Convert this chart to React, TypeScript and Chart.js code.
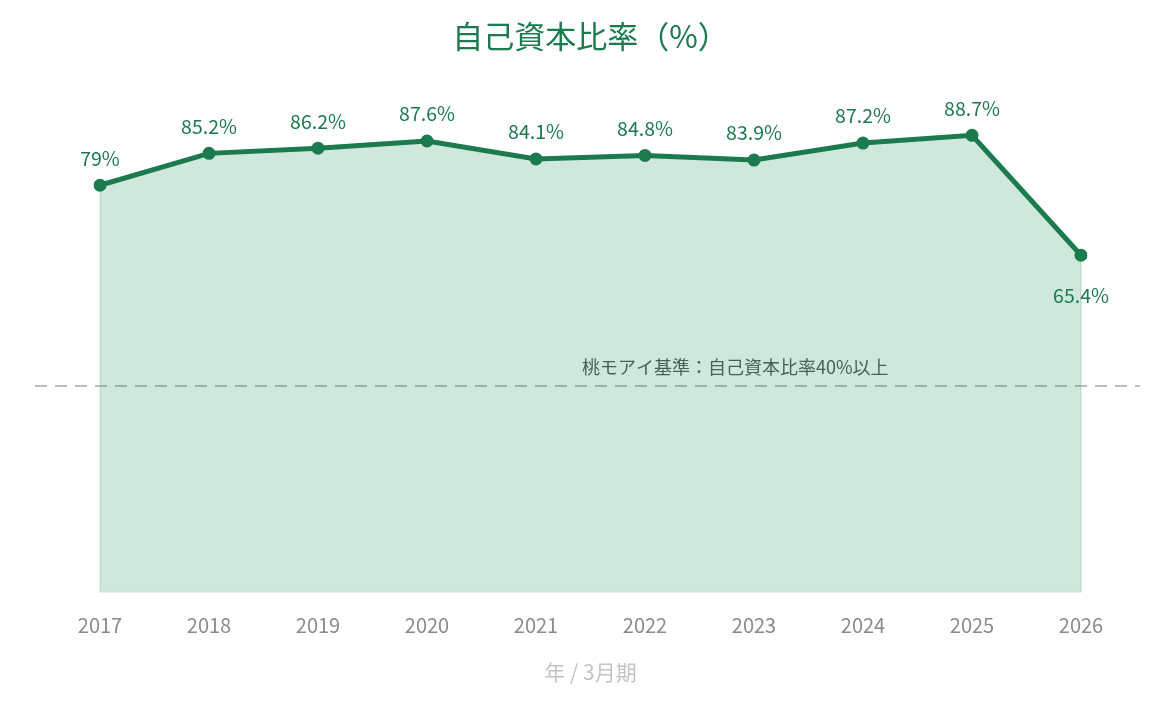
import React, { useEffect, useRef } from "react";
import { Chart, registerables } from "chart.js";

Chart.register(...registerables);

const years = ["2017", "2018", "2019", "2020", "2021", "2022", "2023", "2024", "2025", "2026"];
const equityRatio = [79, 85.2, 86.2, 87.6, 84.1, 84.8, 83.9, 87.2, 88.7, 65.4];
const pointLabels = ["79%", "85.2%", "86.2%", "87.6%", "84.1%", "84.8%", "83.9%", "87.2%", "88.7%", "65.4%"];
const threshold = 40;
const thresholdLabel = "桃モアイ基準：自己資本比率40%以上";
const titleText = "自己資本比率（%）";
const xTitle = "年 / 3月期";

const GREEN = "#1b7a4e";
const FONT = "'Noto Sans CJK JP', 'Noto Sans', sans-serif";

const overlayPlugin = {
  id: "overlay",
  beforeDatasetsDraw(chart: any) {
    const { ctx, chartArea, scales } = chart;
    const y = scales.y.getPixelForValue(threshold);
    ctx.save();
    const meta = chart.getDatasetMeta(0);
    const first = meta.data[0];
    const last = meta.data[meta.data.length - 1];
    ctx.strokeStyle = "rgba(20,140,75,0.12)";
    ctx.lineWidth = 2;
    ctx.beginPath();
    ctx.moveTo(first.x, first.y);
    ctx.lineTo(first.x, chartArea.bottom);
    ctx.lineTo(last.x, chartArea.bottom);
    ctx.lineTo(last.x, last.y);
    ctx.stroke();
    ctx.strokeStyle = "#bdbdbd";
    ctx.lineWidth = 2;
    ctx.setLineDash([12, 8]);
    ctx.beginPath();
    ctx.moveTo(chartArea.left - 65, y);
    ctx.lineTo(chartArea.right + 59, y);
    ctx.stroke();
    ctx.setLineDash([]);
    ctx.fillStyle = "#555555";
    ctx.font = `18px ${FONT}`;
    ctx.textAlign = "left";
    ctx.textBaseline = "middle";
    ctx.fillText(thresholdLabel, chartArea.left + (chartArea.right - chartArea.left) * 0.4913, y - 19);
    ctx.restore();
  },
  afterDatasetsDraw(chart: any) {
    const { ctx } = chart;
    const meta = chart.getDatasetMeta(0);
    ctx.save();
    ctx.fillStyle = GREEN;
    ctx.font = `19.5px ${FONT}`;
    ctx.textAlign = "center";
    ctx.textBaseline = "middle";
    meta.data.forEach((pt: any, i: number) => {
      const below = i === meta.data.length - 1;
      ctx.fillText(pointLabels[i], pt.x, below ? pt.y + 40 : pt.y - 27);
    });
    ctx.restore();
  },
};

export default function App() {
  const ref = useRef<HTMLCanvasElement | null>(null);
  useEffect(() => {
    if (!ref.current) return;
    const chart = new Chart(ref.current, {
      type: "line",
      data: {
        labels: years,
        datasets: [
          {
            data: equityRatio,
            borderColor: GREEN,
            backgroundColor: "rgba(20,140,75,0.2)",
            borderWidth: 5,
            fill: "origin",
            tension: 0,
            pointRadius: 6.5,
            pointBackgroundColor: GREEN,
            pointBorderColor: GREEN,
            pointBorderWidth: 0,
          },
        ],
      },
      options: {
        responsive: false,
        animation: false,
        layout: { padding: { left: 100, right: 89, top: 0, bottom: 18 } },
        plugins: {
          legend: { display: false },
          tooltip: { enabled: false },
          title: {
            display: true,
            text: titleText,
            color: GREEN,
            font: { family: FONT, size: 31, weight: "normal" as any },
            padding: { top: 18, bottom: 22 },
          },
        },
        scales: {
          x: {
            offset: false,
            grid: { display: false, drawTicks: false },
            border: { display: false },
            ticks: { color: "#8a8a8a", font: { family: FONT, size: 20 }, padding: 22 },
            title: {
              display: true,
              text: xTitle,
              color: "#c4c4c4",
              font: { family: FONT, size: 21 },
              padding: { top: 0, bottom: 2 },
            },
          },
          y: {
            display: false,
            min: 0,
            max: 100,
          },
        },
      },
      plugins: [overlayPlugin],
    });
    return () => chart.destroy();
  }, []);
  return (
    <div style={{ position: "fixed", left: 0, top: 0, width: 1170, height: 705, background: "#fff" }}>
      <canvas ref={ref} width={1170} height={705} style={{ width: 1170, height: 705 }} />
    </div>
  );
}
